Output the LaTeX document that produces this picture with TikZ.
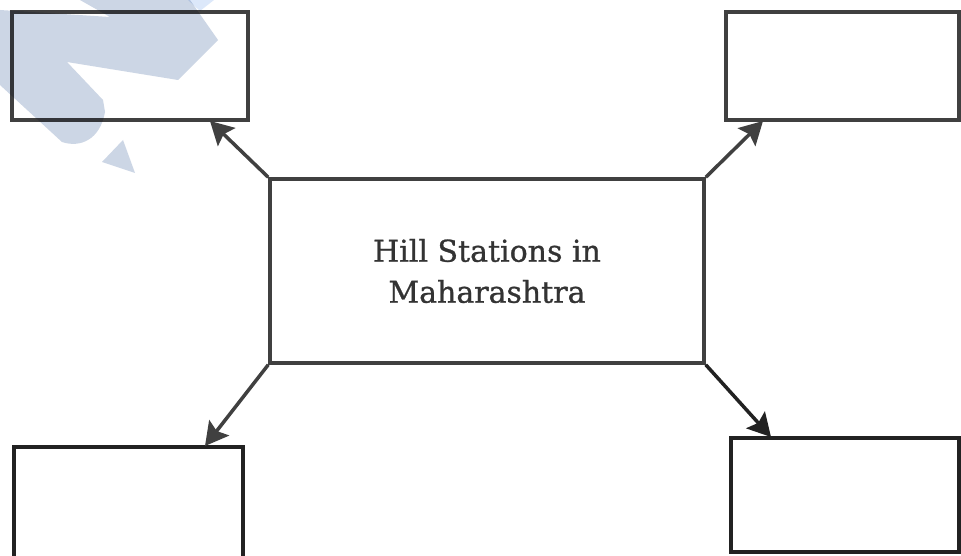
\documentclass[tikz,border=0pt]{standalone}
\usepackage{fontspec}
\setmainfont{DejaVu Serif}
\newfontfamily\lblfont{DejaVu Serif}[FakeBold=0.9]
\usetikzlibrary{arrows.meta}
\definecolor{edge}{HTML}{404040}
\definecolor{edgedark}{HTML}{222222}
\definecolor{txt}{HTML}{333333}
\definecolor{wm}{RGB}{204,214,229}
\definecolor{wmlight}{RGB}{220,232,250}
\tikzset{
  emptybox/.style={draw=edge, line width=3.5pt, fill=white},
  arr/.style={draw=edge, line width=3.5pt, -{Stealth[length=23pt,width=25pt,inset=4pt]}},
}
\begin{document}
\begin{tikzpicture}[x=1pt,y=-1pt]
\useasboundingbox (0,0) rectangle (961,556);
\fill[white] (0,0) rectangle (961,556);
% boxes
\draw[emptybox] (12,12) rectangle (248,120);
\coordinate (tl) at (210,121);
\draw[emptybox] (726,12) rectangle (959,120);
\coordinate (tr) at (763,121);
\draw[emptybox, draw=edgedark] (14,447) rectangle (243,580);
\coordinate (bl) at (205,446);
\draw[emptybox, draw=edgedark] (731,438) rectangle (959,552);
\coordinate (br) at (771,437);
\node[draw=edge, line width=3.5pt, minimum width=434pt, minimum height=184pt, inner sep=0pt, text=txt, align=center,
      font=\lblfont\fontsize{30}{41}\selectfont] (c) at (487,271) {Hill Stations in\\Maharashtra};
% arrows
\draw[arr] (c.north west) -- (tl);
\draw[arr] (c.north east) -- (tr);
\draw[arr] (c.south west) -- (bl);
\draw[arr, draw=edgedark, fill=edgedark] (c.south east) -- (br);
% watermark
\begin{scope}[blend mode=multiply]
\fill[wm] (0,10) -- (110,17) -- (80,0) -- (190,0) -- (218,40) -- (178,80) -- (67,62) -- (103,100) -- (105,112)
  .. controls (100,140) and (80,148) .. (62,142) -- (0,85) -- cycle;
\fill[wm] (102,162) -- (123,140) -- (135,173) -- cycle;
\fill[wmlight] (188,0) -- (214,0) -- (200,11) -- cycle;
\end{scope}
\end{tikzpicture}
\end{document}
